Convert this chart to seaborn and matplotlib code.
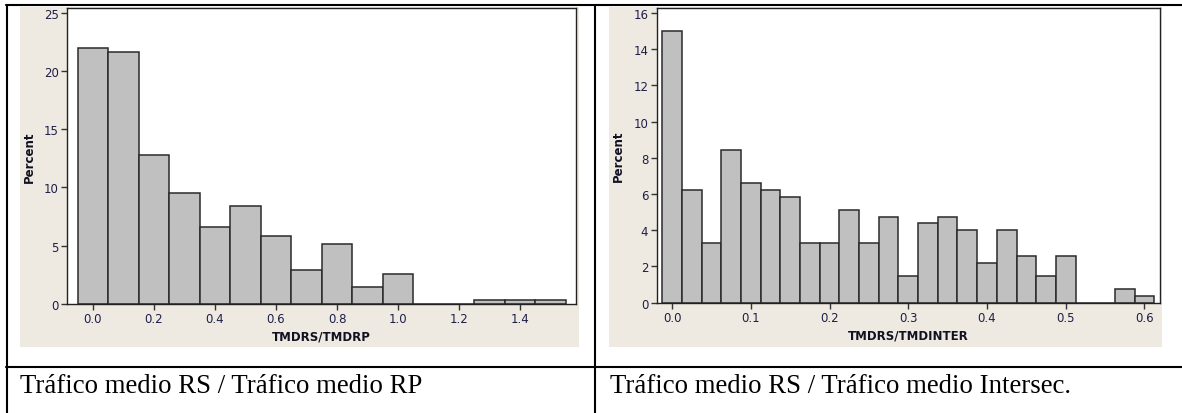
import numpy as np
import pandas as pd
import seaborn as sns
import matplotlib.pyplot as plt
from matplotlib.patches import Rectangle
from matplotlib.lines import Line2D

# Ratio of mean traffic, secondary road / primary road (bins of width 0.1)
rp_centers = [0.0, 0.1, 0.2, 0.3, 0.4, 0.5, 0.6, 0.7,
              0.8, 0.9, 1.0, 1.1, 1.2, 1.3, 1.4, 1.5]
rp_percent = [21.98, 21.61, 12.82, 9.52, 6.59, 8.42, 5.86, 2.93,
              5.13, 1.47, 2.56, 0.0, 0.0, 0.37, 0.37, 0.37]

# Ratio of mean traffic, secondary road / intersection (bins of width 0.025)
inter_centers = [0.0, 0.025, 0.05, 0.075, 0.1, 0.125, 0.15, 0.175, 0.2,
                 0.225, 0.25, 0.275, 0.3, 0.325, 0.35, 0.375, 0.4, 0.425,
                 0.45, 0.475, 0.5, 0.525, 0.55, 0.575, 0.6]
inter_percent = [15.02, 6.23, 3.30, 8.42, 6.59, 6.23, 5.86, 3.30, 3.30,
                 5.13, 3.30, 4.76, 1.47, 4.40, 4.76, 4.03, 2.20, 4.03,
                 2.56, 1.47, 2.56, 0.0, 0.0, 0.73, 0.37]

rp_ticks = [0.0, 0.2, 0.4, 0.6, 0.8, 1.0, 1.2, 1.4]
rp_yticks = [0, 5, 10, 15, 20, 25]
inter_ticks = [0.0, 0.1, 0.2, 0.3, 0.4, 0.5, 0.6]
inter_yticks = [0, 2, 4, 6, 8, 10, 12, 14, 16]

rp_xlabel = "TMDRS/TMDRP"
inter_xlabel = "TMDRS/TMDINTER"
rp_caption = "Tráfico medio RS / Tráfico medio RP"
inter_caption = "Tráfico medio RS / Tráfico medio Intersec."

sns.set_theme(style="white")
plt.rcParams["font.family"] = ["DejaVu Sans"]

W, H = 1182, 414
fig = plt.figure(figsize=(W / 100, H / 100), dpi=100, facecolor="white")

def fx(px):
    return px / W

def fy(py):
    return 1 - py / H

panel_color = "#EEEAE1"
tick_color = "#1E1E48"
bar_fill = "#C0C0C0"
bar_edge = "#2A2A2A"

# beige chart backgrounds, kept beneath the axes
for x0, x1 in [(20, 579), (609, 1162)]:
    fig.patches.append(Rectangle((fx(x0), fy(348)), fx(x1 - x0), (348 - 8) / H,
                                 transform=fig.transFigure, facecolor=panel_color,
                                 edgecolor="none", zorder=-10))

def draw_hist(rect, centers, percent, width, brange, xlim, ylim, xticks, yticks, xlabel):
    ax = fig.add_axes(rect)
    ax.set_zorder(2)
    df = pd.DataFrame({"ratio": centers, "pct": percent})
    sns.histplot(data=df, x="ratio", weights="pct", binwidth=width, binrange=brange,
                 stat="count", color=bar_fill, edgecolor=bar_edge, linewidth=1.1,
                 alpha=1, ax=ax)
    ax.set_facecolor("white")
    ax.set_xlim(*xlim)
    ax.set_ylim(*ylim)
    ax.set_xticks(xticks)
    ax.set_xticklabels([f"{t:.1f}" for t in xticks])
    ax.set_yticks(yticks)
    ax.set_yticklabels([str(t) for t in yticks])
    ax.tick_params(axis="both", direction="out", length=4, width=1, color="#333333",
                   labelsize=8.5, labelcolor=tick_color, pad=2, left=True, bottom=True)
    for s in ax.spines.values():
        s.set_color("#222222")
        s.set_linewidth(1.0)
    ax.set_ylabel("Percent", fontsize=8.5, fontweight="bold", color="#111122", labelpad=6)
    ax.set_xlabel(xlabel, fontsize=8.5, fontweight="bold", color="#111122", labelpad=3)
    return ax

draw_hist([fx(67), fy(305), fx(576 - 67), (305 - 9) / H],
          rp_centers, rp_percent, 0.1, (-0.05, 1.55),
          (-0.085, 1.583), (0, 25.4), rp_ticks, rp_yticks, rp_xlabel)

draw_hist([fx(656.7), fy(303.7), fx(1160 - 656.7), (303.7 - 9) / H],
          inter_centers, inter_percent, 0.025, (-0.0125, 0.6125),
          (-0.0196, 0.6198), (0, 16.28), inter_ticks, inter_yticks, inter_xlabel)

# table rules
lw = 1.5
rules = [
    ((fx(6), fx(W)), (fy(6), fy(6))),
    ((fx(7), fx(7)), (fy(6), fy(H))),
    ((fx(595), fx(595)), (fy(6), fy(H))),
    ((fx(6), fx(W)), (fy(368), fy(368))),
]
for xs, ys in rules:
    fig.lines.append(Line2D(xs, ys, transform=fig.transFigure, color="black",
                            linewidth=lw, zorder=5))

# captions
for x0, txt in [(20, rp_caption), (610, inter_caption)]:
    fig.text(fx(x0), fy(393), txt, fontsize=19.3, family=["Liberation Serif"],
             color="black", va="baseline", ha="left")

fig.savefig("out.png", dpi=100, facecolor="white")
